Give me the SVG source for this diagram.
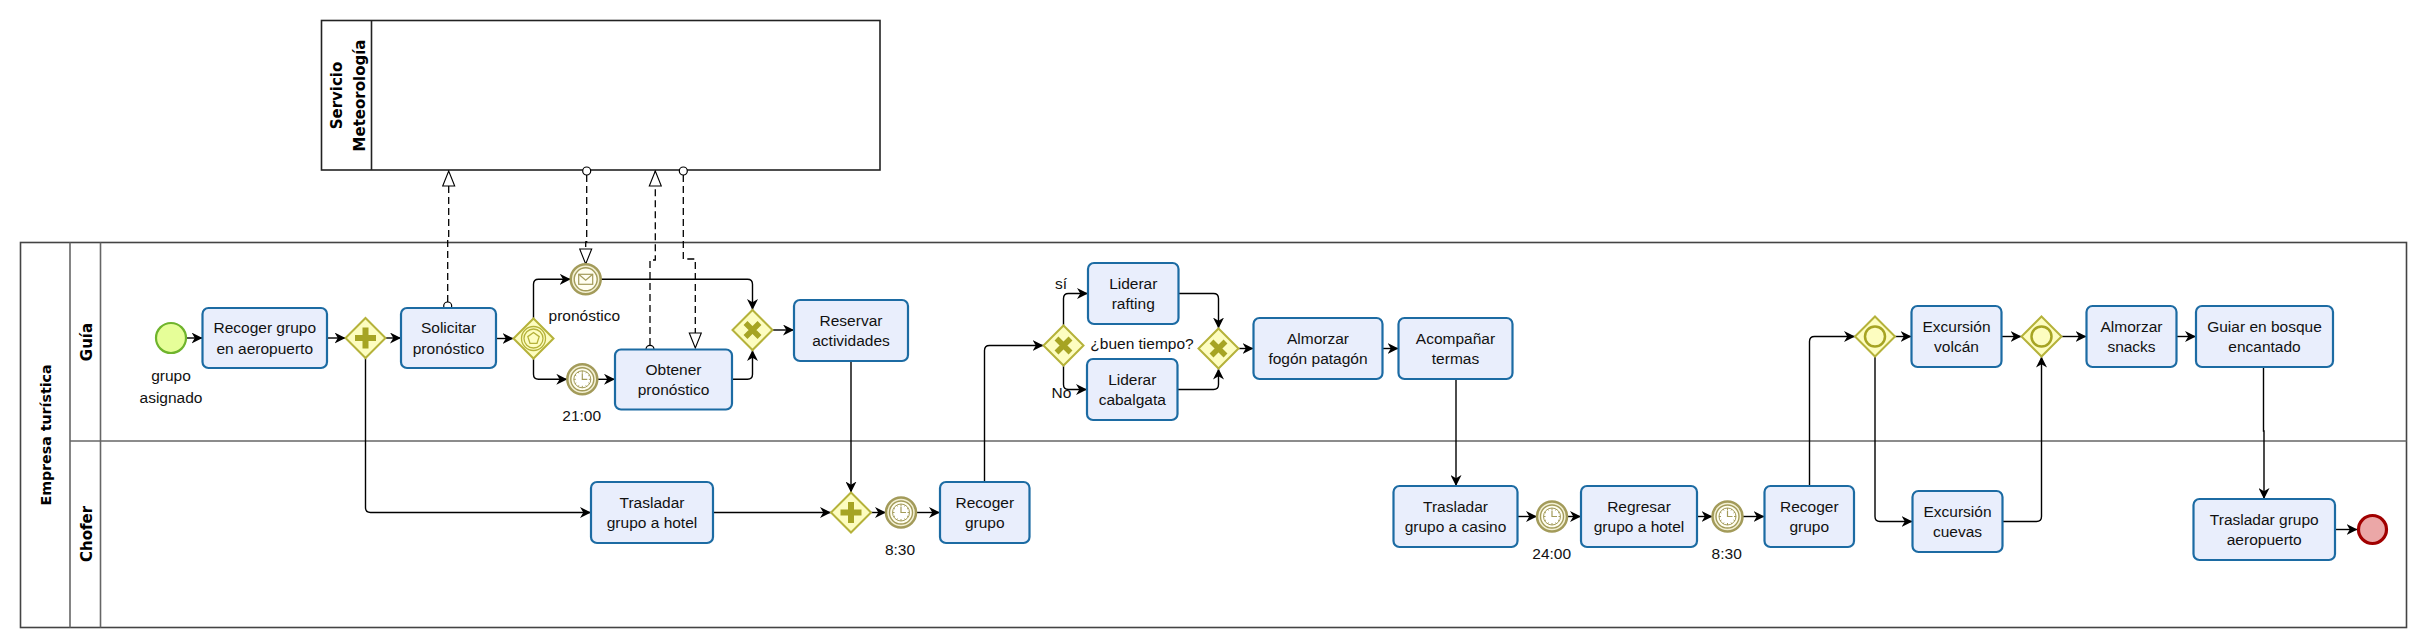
<svg xmlns="http://www.w3.org/2000/svg" width="2426" height="635" viewBox="0 0 2426 635">
<style>
.pool{fill:#fff;stroke:#444;stroke-width:1.6}
.lane{fill:none;stroke:#666;stroke-width:1.6}
.plbl{font-family:"DejaVu Sans",Verdana,sans-serif;font-weight:bold;font-size:15px;fill:#000}
.task rect{fill:#e9eefc;stroke:#1c6ba3;stroke-width:2.2}
.t{font-family:"Liberation Sans",Arial,sans-serif;font-size:15.5px;fill:#111;text-anchor:middle}
.gw polygon{fill:#fdfdc0;stroke:#b5b23a;stroke-width:2}
.mk{fill:#a6a423;stroke:none}
.mks{fill:none;stroke:#a6a423;stroke-width:5.5}
.mkc{fill:none;stroke:#a6a423;stroke-width:2.5}
.ev1{fill:#f3f0d3;stroke:#a39b5a;stroke-width:2.5}
.ev2{fill:#fffef0;stroke:#a39b5a;stroke-width:1.4}
.ev3{fill:#fff;stroke:#a39b5a;stroke-width:1}
.tick{stroke:#a39b5a;stroke-width:1}
.flow{fill:none;stroke:#000;stroke-width:1.4;marker-end:url(#arr)}
.assoc{fill:none;stroke:#000;stroke-width:1.3;stroke-dasharray:7,4}
.ac{fill:#fff;stroke:#000;stroke-width:1.2}
</style>
<defs>
<marker id="arr" viewBox="0 0 10 10" refX="10" refY="5" markerWidth="11" markerHeight="11" markerUnits="userSpaceOnUse" orient="auto"><path d="M0,0 L10,5 L0,10 L3,5 z" fill="#000"/></marker>
<marker id="open" viewBox="-1 -1 17 14" refX="15" refY="6" markerWidth="17" markerHeight="14" markerUnits="userSpaceOnUse" orient="auto"><path d="M0,0 L15,6 L0,12 z" fill="#fff" stroke="#000" stroke-width="1.1" stroke-dasharray="none"/></marker>
<g id="timerIcon">
<circle r="15" class="ev1"/><circle r="11.5" class="ev2"/><circle r="8.5" class="ev3"/>
<path class="tick" d="M0,-8.5V-6.5M0,8.5V6.5M-8.5,0H-6.5M8.5,0H6.5M4.25,-7.36L3.5,-6.06M-4.25,-7.36L-3.5,-6.06M4.25,7.36L3.5,6.06M-4.25,7.36L-3.5,6.06M7.36,-4.25L6.06,-3.5M-7.36,-4.25L-6.06,-3.5M7.36,4.25L6.06,3.5M-7.36,4.25L-6.06,3.5"/>
<path d="M0,-6V0H5" fill="none" stroke="#a39b5a" stroke-width="1.2"/>
</g>
</defs>

<g id="pool-servicio">
<rect class="pool" x="321.5" y="20.5" width="558.5" height="149.5" style="stroke:#222"/>
<line x1="371.5" y1="20.5" x2="371.5" y2="170" stroke="#222" stroke-width="1.6"/>
<text class="plbl" text-anchor="middle" transform="translate(341.5,95.5) rotate(-90)">Servicio</text>
<text class="plbl" text-anchor="middle" transform="translate(365,95.5) rotate(-90)">Meteorología</text>
</g>

<g id="pool-empresa">
<rect class="pool" x="20.5" y="242.5" width="2386" height="385"/>
<line class="lane" x1="70" y1="242.5" x2="70" y2="627.5"/>
<line class="lane" x1="100.5" y1="242.5" x2="100.5" y2="627.5"/>
<line class="lane" x1="70" y1="441" x2="2406.5" y2="441"/>
<text class="plbl" style="font-size:14.2px" text-anchor="middle" transform="translate(50.5,435) rotate(-90)">Empresa turística</text>
<text class="plbl" text-anchor="middle" transform="translate(92,342) rotate(-90)">Guía</text>
<text class="plbl" text-anchor="middle" transform="translate(92,534) rotate(-90)">Chofer</text>
</g>

<g id="connectors">
<path class="flow" d="M186,338H202.5"/>
<path class="flow" d="M327,338H345.5"/>
<path class="flow" d="M385.5,338H401"/>
<path class="flow" d="M365.5,358V507.5Q365.5,512.5 370.5,512.5H591"/>
<path class="flow" d="M496,338.5H513.5"/>
<path class="flow" d="M533.5,318.5V284.3Q533.5,279.3 538.5,279.3H570.7"/>
<path class="flow" d="M533.5,358.5V374.3Q533.5,379.3 538.5,379.3H567.3"/>
<path class="flow" d="M597.3,379.3H615"/>
<path class="flow" d="M600.7,279.3H747.5Q752.5,279.3 752.5,284.3V310"/>
<path class="flow" d="M732,379.3H747.5Q752.5,379.3 752.5,374.3V350"/>
<path class="flow" d="M772.5,330H794"/>
<path class="flow" d="M851,361V492.5"/>
<path class="flow" d="M713,512.5H831"/>
<path class="flow" d="M871,512.5H886"/>
<path class="flow" d="M916,512.5H940"/>
<path class="flow" d="M984.5,482V350.5Q984.5,345.5 989.5,345.5H1043.5"/>
<path class="flow" d="M1063.5,325.5V298.5Q1063.5,293.5 1068.5,293.5H1088"/>
<path class="flow" d="M1063.5,365.5V384.5Q1063.5,389.5 1068.5,389.5H1087"/>
<path class="flow" d="M1178.5,293.5H1213.5Q1218.5,293.5 1218.5,298.5V328.5"/>
<path class="flow" d="M1177.5,389.5H1213.5Q1218.5,389.5 1218.5,384.5V368.5"/>
<path class="flow" d="M1238.5,348.5H1253.5"/>
<path class="flow" d="M1382.5,348.5H1398.5"/>
<path class="flow" d="M1456,379V486"/>
<path class="flow" d="M1517.5,516.5H1537"/>
<path class="flow" d="M1567,516.5H1581"/>
<path class="flow" d="M1697,516.5H1712.5"/>
<path class="flow" d="M1742.5,516.5H1764.5"/>
<path class="flow" d="M1809.5,486V341.5Q1809.5,336.5 1814.5,336.5H1855"/>
<path class="flow" d="M1895,336.5H1911.5"/>
<path class="flow" d="M1875,356.5V516.5Q1875,521.5 1880,521.5H1912.5"/>
<path class="flow" d="M2001.5,336.5H2021.5"/>
<path class="flow" d="M2002.5,521.5H2036.5Q2041.5,521.5 2041.5,516.5V356.5"/>
<path class="flow" d="M2061.5,336.5H2086.5"/>
<path class="flow" d="M2176.5,336.5H2196"/>
<path class="flow" d="M2263.5,367V431H2264V499"/>
<path class="flow" d="M2335,529.5H2357.5"/>
<path class="assoc" d="M447.7,302V238H448.7V171" marker-end="url(#open)"/>
<circle class="ac" cx="447.7" cy="306" r="4"/>
<path class="assoc" d="M586.7,175V242H585.7V264" marker-end="url(#open)"/>
<circle class="ac" cx="586.7" cy="171" r="4"/>
<path class="assoc" d="M650,345V260H655.3V171" marker-end="url(#open)"/>
<circle class="ac" cx="650" cy="349.3" r="4"/>
<path class="assoc" d="M683.3,175V259H695.3V348" marker-end="url(#open)"/>
<circle class="ac" cx="683.3" cy="171" r="4"/>
</g>

<g id="start">
<circle cx="171" cy="338" r="15" fill="#e6fe98" stroke="#6fb42c" stroke-width="2.2"/>
<text class="t" x="171" y="381">grupo</text>
<text class="t" x="171" y="403">asignado</text>
</g>

<g id="task-recoger-aeropuerto" class="task"><rect x="202.5" y="308" width="124.5" height="60" rx="6"/><text class="t" x="264.75" y="333">Recoger grupo</text><text class="t" x="264.75" y="353.5">en aeropuerto</text></g>
<g id="gw-par1" class="gw"><polygon points="365.5,318 385.5,338 365.5,358 345.5,338"/><path class="mk" d="M362.5,327.5h6v7.5h7.5v6h-7.5v7.5h-6v-7.5h-7.5v-6h7.5z"/></g>
<g id="task-solicitar" class="task"><rect x="401" y="308" width="95" height="60" rx="6"/><text class="t" x="448.5" y="333">Solicitar</text><text class="t" x="448.5" y="353.5">pronóstico</text></g>
<g id="gw-event" class="gw"><polygon points="533.5,318.5 553.5,338.5 533.5,358.5 513.5,338.5"/><circle cx="533.5" cy="338.5" r="12" fill="none" stroke="#b5b23a" stroke-width="1.3"/><circle cx="533.5" cy="338.5" r="9.5" fill="none" stroke="#b5b23a" stroke-width="1.3"/><polygon points="533.5,332.5 539.2,336.6 537,343.3 530,343.3 527.8,336.6" style="fill:none;stroke:#b5b23a;stroke-width:1.3"/></g>
<g id="ev-message">
<circle cx="585.7" cy="279.3" r="15" class="ev1"/><circle cx="585.7" cy="279.3" r="11.5" class="ev2"/>
<rect x="578.7" y="274.3" width="14" height="10" fill="#fffef0" stroke="#a39b5a" stroke-width="1.2"/><path d="M578.7,274.3L585.7,280.3L592.7,274.3" fill="none" stroke="#a39b5a" stroke-width="1.2"/>
<text class="t" x="584.3" y="321">pronóstico</text>
</g>
<g id="ev-timer-2100"><use href="#timerIcon" x="582.3" y="379.3"/><text class="t" x="581.7" y="421">21:00</text></g>
<g id="task-obtener" class="task"><rect x="615" y="349.5" width="117" height="60" rx="6"/><text class="t" x="673.5" y="374.5">Obtener</text><text class="t" x="673.5" y="395">pronóstico</text></g>
<g id="gw-xor1" class="gw"><polygon points="752.5,310 772.5,330 752.5,350 732.5,330"/><path class="mks" d="M745.5,323l14,14M759.5,323l-14,14"/></g>
<g id="task-reservar" class="task"><rect x="794" y="300" width="114" height="61" rx="6"/><text class="t" x="851" y="325.5">Reservar</text><text class="t" x="851" y="346">actividades</text></g>
<g id="task-trasladar-hotel" class="task"><rect x="591" y="482" width="122" height="61" rx="6"/><text class="t" x="652" y="507.5">Trasladar</text><text class="t" x="652" y="528">grupo a hotel</text></g>
<g id="gw-par2" class="gw"><polygon points="851,492.5 871,512.5 851,532.5 831,512.5"/><path class="mk" d="M848,502h6v7.5h7.5v6h-7.5v7.5h-6v-7.5h-7.5v-6h7.5z"/></g>
<g id="ev-timer-830a"><use href="#timerIcon" x="901" y="512.5"/><text class="t" x="900" y="555">8:30</text></g>
<g id="task-recoger-1" class="task"><rect x="940" y="482" width="89.5" height="61" rx="6"/><text class="t" x="984.75" y="507.5">Recoger</text><text class="t" x="984.75" y="528">grupo</text></g>
<g id="gw-xor2" class="gw"><polygon points="1063.5,325.5 1083.5,345.5 1063.5,365.5 1043.5,345.5"/><path class="mks" d="M1056.5,338.5l14,14M1070.5,338.5l-14,14"/><text class="t" x="1142" y="348.5">¿buen tiempo?</text><text class="t" x="1061" y="289">sí</text><text class="t" x="1061.5" y="398">No</text></g>
<g id="task-rafting" class="task"><rect x="1088" y="263" width="90.5" height="61" rx="6"/><text class="t" x="1133.25" y="288.5">Liderar</text><text class="t" x="1133.25" y="309">rafting</text></g>
<g id="task-cabalgata" class="task"><rect x="1087" y="359" width="90.5" height="61" rx="6"/><text class="t" x="1132.25" y="384.5">Liderar</text><text class="t" x="1132.25" y="405">cabalgata</text></g>
<g id="gw-xor3" class="gw"><polygon points="1218.5,328.5 1238.5,348.5 1218.5,368.5 1198.5,348.5"/><path class="mks" d="M1211.5,341.5l14,14M1225.5,341.5l-14,14"/></g>
<g id="task-almorzar-fogon" class="task"><rect x="1253.5" y="318" width="129" height="61" rx="6"/><text class="t" x="1318" y="343.5">Almorzar</text><text class="t" x="1318" y="364">fogón patagón</text></g>
<g id="task-termas" class="task"><rect x="1398.5" y="318" width="114" height="61" rx="6"/><text class="t" x="1455.5" y="343.5">Acompañar</text><text class="t" x="1455.5" y="364">termas</text></g>
<g id="task-casino" class="task"><rect x="1393.5" y="486" width="124" height="61" rx="6"/><text class="t" x="1455.5" y="511.5">Trasladar</text><text class="t" x="1455.5" y="532">grupo a casino</text></g>
<g id="ev-timer-2400"><use href="#timerIcon" x="1552" y="516.5"/><text class="t" x="1551.7" y="559">24:00</text></g>
<g id="task-regresar" class="task"><rect x="1581" y="486" width="116" height="61" rx="6"/><text class="t" x="1639" y="511.5">Regresar</text><text class="t" x="1639" y="532">grupo a hotel</text></g>
<g id="ev-timer-830b"><use href="#timerIcon" x="1727.5" y="516.5"/><text class="t" x="1726.7" y="559">8:30</text></g>
<g id="task-recoger-2" class="task"><rect x="1764.5" y="486" width="89.5" height="61" rx="6"/><text class="t" x="1809.25" y="511.5">Recoger</text><text class="t" x="1809.25" y="532">grupo</text></g>
<g id="gw-inc1" class="gw"><polygon points="1875,316.5 1895,336.5 1875,356.5 1855,336.5"/><circle class="mkc" cx="1875" cy="336.5" r="10"/></g>
<g id="task-volcan" class="task"><rect x="1911.5" y="306" width="90" height="61" rx="6"/><text class="t" x="1956.5" y="331.5">Excursión</text><text class="t" x="1956.5" y="352">volcán</text></g>
<g id="task-cuevas" class="task"><rect x="1912.5" y="491" width="90" height="61" rx="6"/><text class="t" x="1957.5" y="516.5">Excursión</text><text class="t" x="1957.5" y="537">cuevas</text></g>
<g id="gw-inc2" class="gw"><polygon points="2041.5,316.5 2061.5,336.5 2041.5,356.5 2021.5,336.5"/><circle class="mkc" cx="2041.5" cy="336.5" r="10"/></g>
<g id="task-snacks" class="task"><rect x="2086.5" y="306" width="90" height="61" rx="6"/><text class="t" x="2131.5" y="331.5">Almorzar</text><text class="t" x="2131.5" y="352">snacks</text></g>
<g id="task-bosque" class="task"><rect x="2196" y="306" width="137" height="61" rx="6"/><text class="t" x="2264.5" y="331.5">Guiar en bosque</text><text class="t" x="2264.5" y="352">encantado</text></g>
<g id="task-aeropuerto" class="task"><rect x="2193.5" y="499" width="141.5" height="61" rx="6"/><text class="t" x="2264.25" y="524.5">Trasladar grupo</text><text class="t" x="2264.25" y="545">aeropuerto</text></g>
<g id="end"><circle cx="2372.5" cy="529.5" r="14" fill="#eba7a7" stroke="#a10000" stroke-width="3.2"/></g>
</svg>
